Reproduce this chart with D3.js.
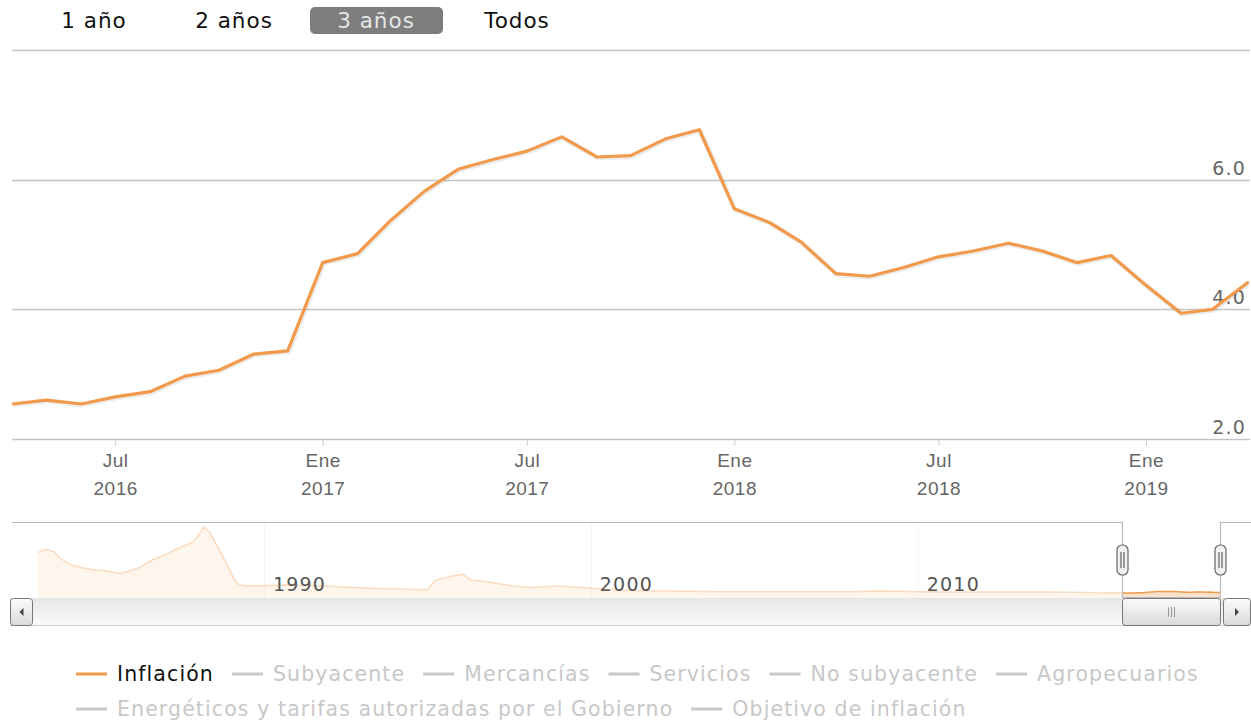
<!DOCTYPE html>
<html>
<head>
<meta charset="utf-8">
<script src="https://cdnjs.cloudflare.com/ajax/libs/d3/7.8.5/d3.min.js"></script>
<style>
  html, body { margin: 0; padding: 0; background: #fff; }
  svg { display: block; font-family: "DejaVu Sans", sans-serif; }
</style>
</head>
<body>
<svg id="chart" width="1251" height="721"></svg>
<script>
//============ data =========//
// monthly annual inflation, shown range
var months = ["2016-04","2016-05","2016-06","2016-07","2016-08","2016-09","2016-10","2016-11","2016-12",
  "2017-01","2017-02","2017-03","2017-04","2017-05","2017-06","2017-07","2017-08","2017-09","2017-10","2017-11","2017-12",
  "2018-01","2018-02","2018-03","2018-04","2018-05","2018-06","2018-07","2018-08","2018-09","2018-10","2018-11","2018-12",
  "2019-01","2019-02","2019-03","2019-04"];
var inflacion = [2.54, 2.60, 2.54, 2.65, 2.73, 2.97, 3.06, 3.31, 3.36,
  4.72, 4.86, 5.35, 5.82, 6.16, 6.31, 6.44, 6.66, 6.35, 6.37, 6.63, 6.77,
  5.55, 5.34, 5.04, 4.55, 4.51, 4.65, 4.81, 4.90, 5.02, 4.90, 4.72, 4.83,
  4.37, 3.94, 4.00, 4.41];

// older history, only seen in the navigator
var histMonths = ["1983-02","1983-05","1983-08","1983-10","1984-02","1984-06","1984-11","1985-03","1985-08","1985-12",
  "1986-03","1986-08","1987-01","1987-06","1987-11","1988-01","1988-03","1988-05","1988-09","1988-12",
  "1989-03","1989-05","1990-01","1990-10","1991-12","1993-01","1994-02","1995-01","1995-04","1995-09",
  "1996-02","1996-05","1996-10","1997-08","1998-03","1999-01","2000-01","2001-01","2002-01","2003-01",
  "2004-01","2005-01","2006-01","2007-01","2008-01","2008-10","2009-06","2010-01","2011-01","2012-01",
  "2013-01","2014-01","2015-01","2015-12","2016-03"];
var histValues = [111, 120, 113, 97, 78, 70, 64, 62, 55, 62,
  70, 91, 106, 124, 139, 158, 180, 167, 113, 69,
  29, 22, 22, 24, 21, 16, 13, 11, 37, 46,
  53, 37, 33, 22, 17, 21, 15, 10, 8, 7,
  6, 6, 6, 6, 6, 8, 7, 6, 5, 5,
  5, 5, 4, 3, 3];

var yTicks = [2, 4, 6, 8];
var navYears = [1990, 2000, 2010];
var monthAbbr = ["Ene","Feb","Mar","Abr","May","Jun","Jul","Ago","Sep","Oct","Nov","Dic"];
var rangeButtons = ["1 año", "2 años", "3 años", "Todos"];
var selectedButton = "3 años";
var legendNames = ["Inflación", "Subyacente", "Mercancías", "Servicios", "No subyacente", "Agropecuarios",
  "Energéticos y tarifas autorizadas por el Gobierno", "Objetivo de inflación"];
var legendActive = ["Inflación"];

var lineColor = '#f29a4b';
var parseMonth = d3.timeParse("%Y-%m");

var data = months.map(function(m, i) { return {date: parseMonth(m), v: inflacion[i]}; });
var navData = histMonths.map(function(m, i) { return {date: parseMonth(m), v: histValues[i]}; }).concat(data);

var svg = d3.select('#chart');
var defs = svg.append('defs');

//============ range buttons =========//
var btnCenters = [94, 234, 376, 517];
var btn = svg.append('g').attr('class', 'buttons');
rangeButtons.forEach(function(label, i) {
  var sel = label === selectedButton;
  if (sel) {
    btn.append('rect')
      .attr('x', btnCenters[i] - 66).attr('y', 7)
      .attr('width', 133).attr('height', 27)
      .attr('rx', 5)
      .attr('fill', '#7d7d7d');
  }
  btn.append('text')
    .attr('x', btnCenters[i]).attr('y', 28)
    .attr('text-anchor', 'middle')
    .style('font-size', '21.5px')
    .style('letter-spacing', '1px')
    .style('fill', sel ? '#e6e6e6' : '#111')
    .text(label);
});

//============ main chart =========//
var plotLeft = 12, plotRight = 1250;

var x = d3.scaleTime()
  .domain([parseMonth("2016-04"), parseMonth("2019-04")])
  .range([12.5, 1247.5]);

var y = d3.scaleLinear()
  .domain([2, 8])
  .range([439, 50]);

// grid lines
svg.append('g').selectAll('line')
  .data(yTicks)
  .enter().append('line')
  .attr('x1', plotLeft).attr('x2', plotRight)
  .attr('y1', function(d) { return Math.round(y(d)) + 0.5; })
  .attr('y2', function(d) { return Math.round(y(d)) + 0.5; })
  .attr('stroke', '#c4c4c4')
  .attr('stroke-width', 1.5);

// y labels (top one hidden like the original)
svg.append('g').selectAll('text')
  .data(yTicks.slice(0, 3))
  .enter().append('text')
  .attr('x', 1246)
  .attr('y', function(d) { return y(d) - 5; })
  .attr('text-anchor', 'end')
  .style('font-size', '19px')
  .style('letter-spacing', '1.2px')
  .style('fill', '#666')
  .text(d3.format('.1f'));

// x axis
var xTicks = d3.timeMonth.every(6).range(x.domain()[0], d3.timeDay.offset(x.domain()[1], 1));
var xAxis = d3.axisBottom(x)
  .tickValues(xTicks)
  .tickSize(6)
  .tickFormat('');

var gx = svg.append('g')
  .attr('transform', 'translate(0,' + 439.5 + ')')
  .call(xAxis);
gx.select('.domain').remove();
gx.selectAll('.tick line').attr('stroke', '#c0d0e0');
gx.selectAll('.tick').each(function(d) {
  var t = d3.select(this).append('text')
    .attr('fill', '#666')
    .attr('text-anchor', 'middle')
    .style('font-size', '19px')
    .style('letter-spacing', '0.5px');
  t.append('tspan').attr('x', 0).attr('y', 27).text(monthAbbr[d.getMonth()]);
  t.append('tspan').attr('x', 0).attr('y', 55).text(d.getFullYear());
});

// clip for the line
defs.append('clipPath').attr('id', 'plotClip')
  .append('rect').attr('x', plotLeft).attr('y', 40).attr('width', plotRight - plotLeft).attr('height', 410);

var line = d3.line()
  .x(function(d) { return x(d.date); })
  .y(function(d) { return y(d.v); });

var lineG = svg.append('g').attr('clip-path', 'url(#plotClip)');
// soft shadow
lineG.append('path')
  .datum(data)
  .attr('d', line)
  .attr('transform', 'translate(1,1)')
  .attr('fill', 'none')
  .attr('stroke', '#000')
  .attr('stroke-opacity', 0.07)
  .attr('stroke-width', 5)
  .attr('stroke-linejoin', 'round');
lineG.append('path')
  .datum(data)
  .attr('d', line)
  .attr('fill', 'none')
  .attr('stroke', lineColor)
  .attr('stroke-width', 3.2)
  .attr('stroke-linejoin', 'round')
  .attr('stroke-linecap', 'round');

//============ navigator =========//
var navTop = 522, navBottom = 598;
var selStart = x.domain()[0], selEnd = x.domain()[1];

var navX = d3.scaleTime()
  .domain([new Date(1990, 0, 1), new Date(2019, 3, 1)])
  .range([264, 1220]);
var navY = d3.scaleLinear()
  .domain([-11, 193])
  .range([navBottom, navTop]);

var nav = svg.append('g');

defs.append('clipPath').attr('id', 'navClip')
  .append('rect').attr('x', plotLeft).attr('y', navTop).attr('width', plotRight - plotLeft).attr('height', navBottom - navTop);

nav.append('g').selectAll('line')
  .data(navYears)
  .enter().append('line')
  .attr('x1', function(d) { return Math.round(navX(new Date(d, 0, 1))) + 0.5; })
  .attr('x2', function(d) { return Math.round(navX(new Date(d, 0, 1))) + 0.5; })
  .attr('y1', navTop).attr('y2', navBottom)
  .attr('stroke', '#e4e4e4');

var navArea = d3.area()
  .x(function(d) { return navX(d.date); })
  .y0(navBottom)
  .y1(function(d) { return navY(d.v); });
var navLine = d3.line()
  .x(function(d) { return navX(d.date); })
  .y(function(d) { return navY(d.v); });

var navSeries = nav.append('g').attr('clip-path', 'url(#navClip)');
navSeries.append('path')
  .datum(navData)
  .attr('d', navArea)
  .attr('fill', lineColor)
  .attr('fill-opacity', 0.3);
navSeries.append('path')
  .datum(navData)
  .attr('d', navLine)
  .attr('fill', 'none')
  .attr('stroke', lineColor)
  .attr('stroke-width', 1.5);

// mask outside the selected range
var sx0 = navX(selStart), sx1 = navX(selEnd);
nav.append('rect')
  .attr('x', plotLeft).attr('y', navTop)
  .attr('width', sx0 - plotLeft).attr('height', navBottom - navTop)
  .attr('fill', 'rgba(255,255,255,0.65)');
nav.append('rect')
  .attr('x', sx1).attr('y', navTop)
  .attr('width', plotRight - sx1).attr('height', navBottom - navTop)
  .attr('fill', 'rgba(255,255,255,0.65)');

// year labels
nav.append('g').selectAll('text')
  .data(navYears)
  .enter().append('text')
  .attr('x', function(d) { return navX(new Date(d, 0, 1)) + 9; })
  .attr('y', 591)
  .style('font-size', '19px')
  .style('letter-spacing', '1.2px')
  .style('fill', '#555')
  .text(function(d) { return d; });

// outline
nav.append('path')
  .attr('d', 'M' + plotLeft + ',' + (navTop + 0.5) + 'H' + (Math.round(sx0) + 0.5) + 'V' + (navBottom - 0.5) +
    'H' + (Math.round(sx1) + 0.5) + 'V' + (navTop + 0.5) + 'H1251')
  .attr('fill', 'none')
  .attr('stroke', '#b8b8bc')
  .attr('stroke-width', 1.2);

// handles
[sx0, sx1].forEach(function(hx) {
  hx = Math.round(hx) + 0.5;
  var h = nav.append('g');
  h.append('rect')
    .attr('x', hx - 5.5).attr('y', 545)
    .attr('width', 11).attr('height', 30)
    .attr('rx', 5)
    .attr('fill', '#f2f0f0')
    .attr('stroke', '#666')
    .attr('stroke-width', 1.2);
  h.append('path')
    .attr('d', 'M' + (hx - 1.5) + ',552V568M' + (hx + 1.5) + ',552V568')
    .attr('stroke', '#444')
    .attr('stroke-width', 1);
});

//============ scrollbar =========//
var grad = defs.append('linearGradient').attr('id', 'trackGrad').attr('x1', 0).attr('x2', 0).attr('y1', 0).attr('y2', 1);
grad.append('stop').attr('offset', '0%').attr('stop-color', '#e6e6e6');
grad.append('stop').attr('offset', '100%').attr('stop-color', '#fbfbfb');
var grad2 = defs.append('linearGradient').attr('id', 'barGrad').attr('x1', 0).attr('x2', 0).attr('y1', 0).attr('y2', 1);
grad2.append('stop').attr('offset', '0%').attr('stop-color', '#fbfbfb');
grad2.append('stop').attr('offset', '100%').attr('stop-color', '#dadada');

var sb = svg.append('g');
sb.append('rect')
  .attr('x', 10).attr('y', 598)
  .attr('width', 1240).attr('height', 28)
  .attr('fill', 'url(#trackGrad)');
sb.append('line')
  .attr('x1', 10).attr('x2', 1250).attr('y1', 625.5).attr('y2', 625.5)
  .attr('stroke', '#cfcfcf');

// thumb
sb.append('rect')
  .attr('x', Math.round(sx0) + 0.5).attr('y', 598.5)
  .attr('width', Math.round(sx1) - Math.round(sx0)).attr('height', 27)
  .attr('rx', 3)
  .attr('fill', 'url(#barGrad)')
  .attr('stroke', '#777');
var mid = Math.round((sx0 + sx1) / 2) + 0.5;
sb.append('path')
  .attr('d', 'M' + (mid - 3) + ',607V617M' + mid + ',607V617M' + (mid + 3) + ',607V617')
  .attr('stroke', '#999');

// arrow buttons
[[10, 22, -1], [1223, 27, 1]].forEach(function(b) {
  sb.append('rect')
    .attr('x', b[0] + 0.5).attr('y', 598.5)
    .attr('width', b[1]).attr('height', 27)
    .attr('rx', 3)
    .attr('fill', 'url(#barGrad)')
    .attr('stroke', '#777');
  var cx = b[0] + b[1] / 2 + 0.5, cy = 612;
  sb.append('path')
    .attr('d', b[2] < 0
      ? 'M' + (cx - 2) + ',' + cy + 'L' + (cx + 2) + ',' + (cy - 4) + 'L' + (cx + 2) + ',' + (cy + 4) + 'Z'
      : 'M' + (cx + 2) + ',' + cy + 'L' + (cx - 2) + ',' + (cy - 4) + 'L' + (cx - 2) + ',' + (cy + 4) + 'Z')
    .attr('fill', '#444');
});

//============ legend =========//
var legend = svg.append('g');
var lx = 76, ly = 674, rowH = 35, maxX = 1200;
legendNames.forEach(function(name) {
  var on = legendActive.indexOf(name) >= 0;
  var item = legend.append('g');
  var txt = item.append('text')
    .attr('x', 41)
    .attr('y', 7)
    .style('font-size', '20.5px')
    .style('letter-spacing', '1.1px')
    .style('fill', on ? '#111' : '#c8c8c8')
    .text(name);
  var w = 41 + txt.node().getComputedTextLength();
  if (lx + w > maxX) { lx = 76; ly += rowH; }
  item.attr('transform', 'translate(' + lx + ',' + ly + ')');
  item.append('line')
    .attr('x1', 0).attr('x2', 31)
    .attr('y1', 0).attr('y2', 0)
    .attr('stroke', on ? lineColor : '#c8c8c8')
    .attr('stroke-width', 3);
  lx += w + 18;
});
</script>
</body>
</html>
